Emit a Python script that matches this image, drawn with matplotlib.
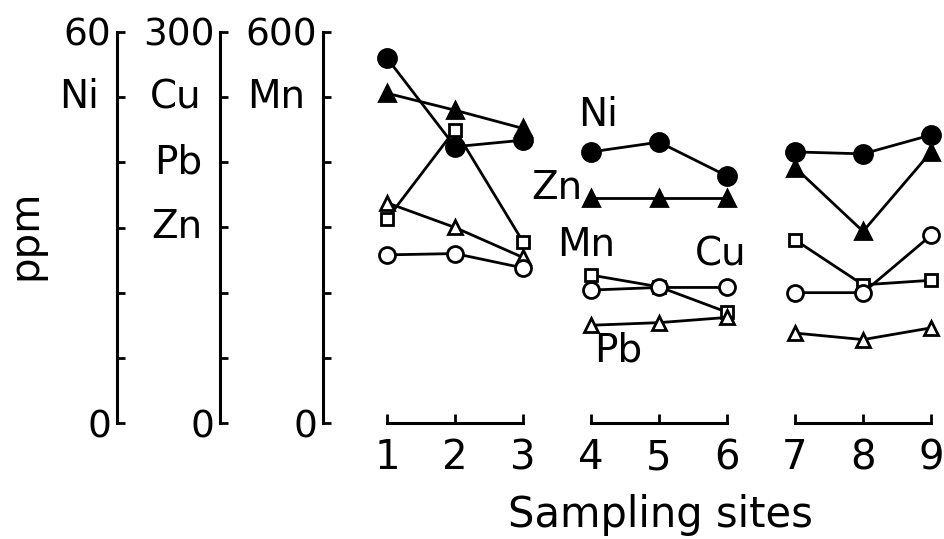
import numpy as np
import matplotlib.pyplot as plt

sites = np.array([1, 2, 3, 4, 5, 6, 7, 8, 9])
ni = np.array([56.0, 42.4, 43.4, 41.6, 43.1, 37.9, 41.6, 41.3, 44.2])
zn = np.array([253, 240, 226, 173, 173, 173, 196, 147, 208])
mn = np.array([313, 450, 278, 227, 209, 170, 281, 212, 219])
cu = np.array([129, 130, 119, 102, 104, 104, 100, 100, 144])
pb = np.array([169, 150, 127, 75, 77, 81, 69, 64, 73])
groups = [[0, 1, 2], [3, 4, 5], [6, 7, 8]]

plt.rcParams['font.family'] = 'DejaVu Sans'

fig = plt.figure(figsize=(9.44, 5.39), dpi=100)
rect = [117 / 944, 116 / 539, 827 / 944, 391 / 539]
xlim = (-2.97, 9.19)


def scale_axis(ymax, pos, top_label, names):
    ax = fig.add_axes(rect)
    ax.patch.set_visible(False)
    for s in ['top', 'right', 'bottom']:
        ax.spines[s].set_visible(False)
    ax.spines['left'].set_position(('axes', pos))
    ax.spines['left'].set_linewidth(2.2)
    ax.set_xlim(xlim)
    ax.set_ylim(0, ymax)
    ax.set_xticks([])
    ticks = np.linspace(0, ymax, 7)
    ax.set_yticks(ticks)
    ax.set_yticklabels(['0', '', '', '', '', '', top_label])
    ax.tick_params(axis='y', direction='in', length=6, width=2,
                   labelsize=27, pad=4)
    for name, val in names:
        ax.annotate(name, xy=(pos, val), xycoords=('axes fraction', 'data'),
                    xytext=(-13, 0), textcoords='offset points',
                    ha='right', va='center', fontsize=28)
    return ax


ax_ni = scale_axis(60, 0.0, '60', [('Ni', 50)])
ax_cu = scale_axis(300, 0.1245, '300', [('Cu', 250), ('Pb', 200), ('Zn', 150)])
ax_mn = scale_axis(600, 0.2491, '600', [('Mn', 500)])
# open circles / triangles sit on top of the Mn squares
ax_mn.set_zorder(0.5)
ax_cu.set_zorder(1)


def draw(ax, vals, marker, face, ms):
    for g in groups:
        ax.plot(sites[g], vals[g], color='black', lw=2, marker=marker,
                markerfacecolor=face, markeredgecolor='black',
                markeredgewidth=2, markersize=ms, clip_on=False)


draw(ax_cu, zn, '^', 'black', 11)
draw(ax_ni, ni, 'o', 'black', 13)
draw(ax_cu, pb, '^', 'white', 10)
draw(ax_mn, mn, 's', 'white', 8.5)
draw(ax_cu, cu, 'o', 'white', 11.5)

# element names inside the plot
ax_ni.text(4.10, 47.3, 'Ni', fontsize=28, ha='center', va='center')
ax_ni.text(3.87, 36.1, 'Zn', fontsize=28, ha='right', va='center')
ax_ni.text(3.93, 27.3, 'Mn', fontsize=28, ha='center', va='center')
ax_ni.text(5.91, 25.8, 'Cu', fontsize=28, ha='center', va='center')
ax_ni.text(4.40, 11.2, 'Pb', fontsize=28, ha='center', va='center')

# broken x axis, one bracket per group
for g in groups:
    ax = fig.add_axes(rect)
    ax.patch.set_visible(False)
    for s in ['top', 'right', 'left']:
        ax.spines[s].set_visible(False)
    ax.set_xlim(xlim)
    ax.set_ylim(0, 60)
    ax.spines['bottom'].set_bounds(sites[g][0], sites[g][-1])
    ax.spines['bottom'].set_linewidth(2.2)
    ax.set_yticks([])
    ax.set_xticks(sites[g])
    ax.tick_params(axis='x', direction='in', length=6.5, width=2,
                   labelsize=29, pad=11)

fig.text(25 / 944, 1 - 235 / 539, 'ppm', rotation=90, fontsize=29,
         ha='center', va='center')
fig.text(660 / 944, 12 / 539, 'Sampling sites', fontsize=30,
         ha='center', va='baseline')

fig.savefig('out.png', dpi=100)
